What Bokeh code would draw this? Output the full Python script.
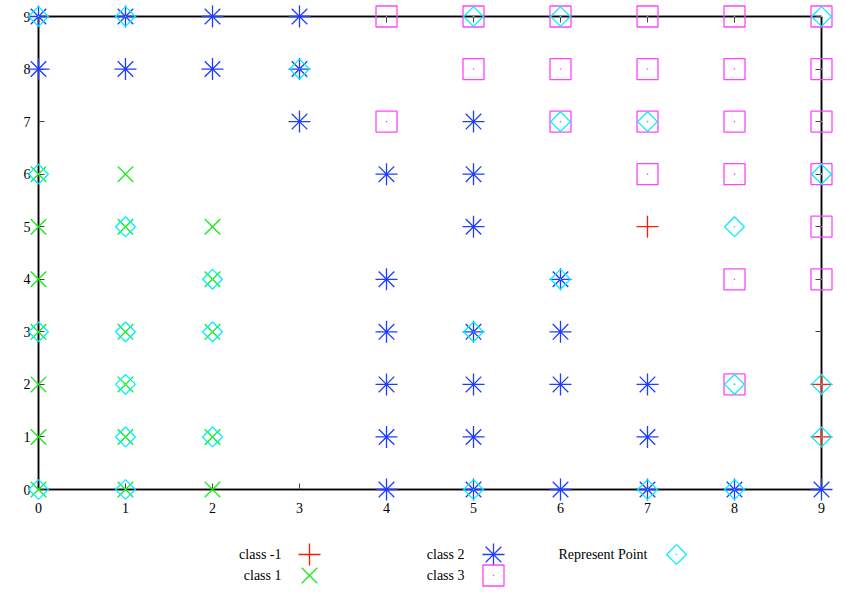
import math
from bokeh.plotting import figure
from bokeh.layouts import column
from bokeh.models import Range1d, LinearAxis, FixedTicker
from bokeh.core.properties import value
from bokeh.embed import file_html
from bokeh.resources import INLINE

# ---------------- data ----------------
ticks = [0, 1, 2, 3, 4, 5, 6, 7, 8, 9]

class_m1_x = [7, 9, 9]
class_m1_y = [5, 2, 1]

class_1_x = [0, 1, 0, 1, 2, 0, 2, 0, 1, 2, 0, 1, 0, 1, 2, 0, 1, 2]
class_1_y = [6, 6, 5, 5, 5, 4, 4, 3, 3, 3, 2, 2, 1, 1, 1, 0, 0, 0]

class_2_x = [0, 1, 2, 3, 0, 1, 2, 3, 3, 5, 4, 5, 5, 4, 6, 4, 5, 6, 4, 5, 6, 7, 4, 5, 7, 4, 5, 6, 7, 8, 9]
class_2_y = [9, 9, 9, 9, 8, 8, 8, 8, 7, 7, 6, 6, 5, 4, 4, 3, 3, 3, 2, 2, 2, 2, 1, 1, 1, 0, 0, 0, 0, 0, 0]

class_3_x = [4, 5, 6, 7, 8, 9, 5, 6, 7, 8, 9, 4, 6, 7, 8, 9, 7, 8, 9, 9, 8, 9, 8]
class_3_y = [9, 9, 9, 9, 9, 9, 8, 8, 8, 8, 8, 7, 7, 7, 7, 7, 6, 6, 6, 5, 4, 4, 2]

rep_x = [0, 1, 5, 6, 9, 3, 6, 7, 0, 9, 1, 8, 2, 6, 0, 1, 2, 5, 1, 8, 9, 1, 2, 9, 0, 1, 5, 7, 8]
rep_y = [9, 9, 9, 9, 9, 8, 7, 7, 6, 6, 5, 5, 4, 4, 3, 3, 3, 3, 2, 2, 2, 1, 1, 1, 0, 0, 0, 0, 0]

legend_labels = ["class -1", "class 1", "class 2", "class 3", "Represent Point"]

# ---------------- style ----------------
RED = "#ff1a00"
GREEN = "#11ee11"
BLUE = "#1f3dff"
MAGENTA = "#ff44ff"
CYAN = "#00eeff"
FONT = "Liberation Serif"
FSIZE = "14px"
LW = 1.3

p = figure(width=846, height=520, x_range=Range1d(0, 9), y_range=Range1d(0, 9),
           output_backend="svg", toolbar_location=None,
           min_border_left=38, min_border_right=25, min_border_top=16, min_border_bottom=31)
p.grid.visible = False
p.outline_line_color = "black"
p.outline_line_width = 1.5
p.background_fill_color = "white"
p.border_fill_color = "white"

bottom_ax = p.below[0]
left_ax = p.left[0]
top_ax = LinearAxis()
right_ax = LinearAxis()
p.add_layout(top_ax, "above")
p.add_layout(right_ax, "right")

for ax in [bottom_ax, left_ax, top_ax, right_ax]:
    ax.ticker = FixedTicker(ticks=ticks)
    ax.major_tick_in = 6
    ax.major_tick_out = 0
    ax.minor_tick_in = 0
    ax.minor_tick_out = 0
    ax.axis_line_color = "black"
    ax.axis_line_width = 1.5
    ax.major_tick_line_color = "#444444"
    ax.major_label_text_font = FONT
    ax.major_label_text_font_size = FSIZE
    ax.major_label_text_color = "black"

bottom_ax.major_label_standoff = 13
left_ax.major_label_standoff = 8
for ax in [top_ax, right_ax]:
    ax.major_label_overrides = {t: "" for t in ticks}
    ax.major_label_standoff = 0


def marks(fig, xs, ys, kind, lvl):
    if kind == "plus":
        fig.scatter(xs, ys, marker="cross", size=22, line_color=RED, line_width=LW, level=lvl)
    elif kind == "x":
        fig.scatter(xs, ys, marker="x", size=22, line_color=GREEN, line_width=LW, level=lvl)
    elif kind == "star":
        fig.scatter(xs, ys, marker="cross", size=22, line_color=BLUE, line_width=LW, level=lvl)
        fig.scatter(xs, ys, marker="x", size=22, line_color=BLUE, line_width=LW, level=lvl)
        fig.scatter(xs, ys, marker="circle", size=3, line_color=None, fill_color=BLUE, level=lvl)
    elif kind == "square":
        fig.scatter(xs, ys, marker="square", size=21, line_color=MAGENTA, fill_color=None,
                    line_width=LW, level=lvl)
        fig.scatter(xs, ys, marker="circle", size=1.6, line_color=None, fill_color=MAGENTA,
                    level=lvl)
    elif kind == "diamond":
        fig.scatter(xs, ys, marker="square", size=14, angle=math.pi / 4, line_color=CYAN,
                    fill_color=None, line_width=LW, level=lvl)
        fig.scatter(xs, ys, marker="circle", size=1.6, line_color=None, fill_color=CYAN,
                    level=lvl)


marks(p, class_m1_x, class_m1_y, "plus", "overlay")
marks(p, class_1_x, class_1_y, "x", "overlay")
marks(p, class_2_x, class_2_y, "star", "overlay")
marks(p, class_3_x, class_3_y, "square", "overlay")
marks(p, rep_x, rep_y, "diamond", "overlay")

# ---------------- legend (gnuplot style: label then sample) ----------------
# the column layout aligns this frame with the plot frame above (page x 38..821)
leg = figure(width=846, height=74, x_range=Range1d(38, 821), y_range=Range1d(74, 0),
             output_backend="svg", toolbar_location=None, min_border=0,
             x_axis_location=None, y_axis_location=None)
leg.grid.visible = False
leg.outline_line_color = None

lx_text = [281, 281, 464, 464, 647]
lx_mark = [309, 309, 493, 493, 676]
ly = [34, 55, 34, 55, 34]
leg.text(x=lx_text, y=ly, text=legend_labels, text_align="right", text_baseline="middle",
         text_font=value(FONT), text_font_size=FSIZE, text_color="black")
kinds = ["plus", "x", "star", "square", "diamond"]
for i, k in enumerate(kinds):
    marks(leg, [lx_mark[i]], [ly[i]], k, "glyph")

layout = column(p, leg, spacing=0)
open("out.html", "w").write(file_html(layout, INLINE))
